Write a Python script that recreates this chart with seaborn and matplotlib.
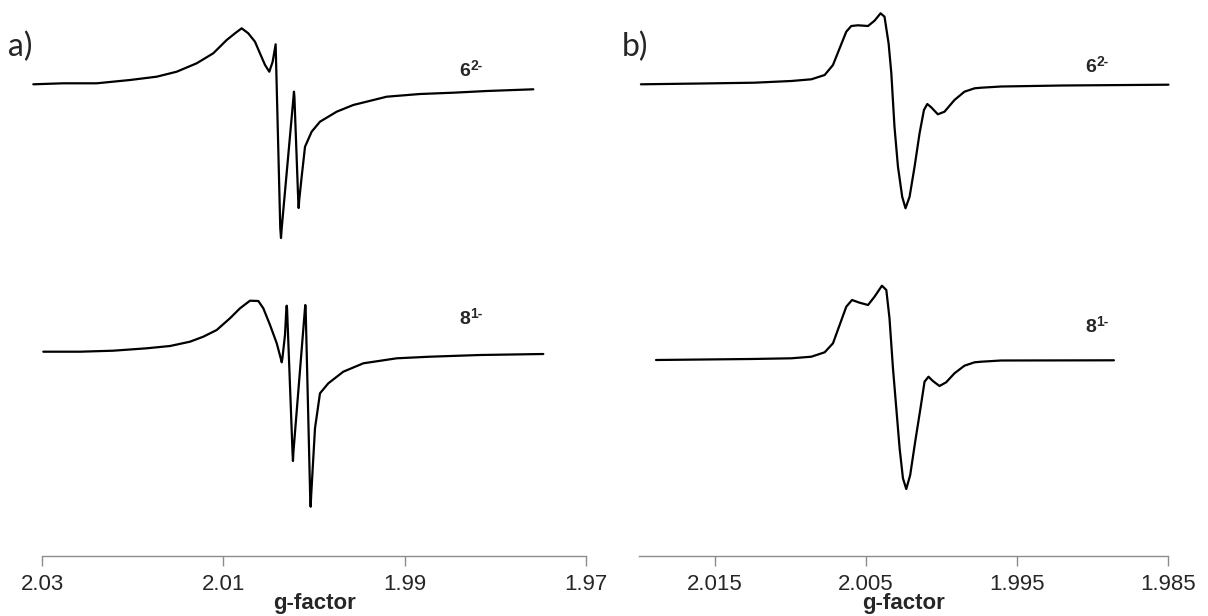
import numpy as np
import pandas as pd
import matplotlib
matplotlib.use("Agg")
import matplotlib.pyplot as plt
import seaborn as sns

# ---- data: g-factor and signal level (larger = lower on page) ----
a_top_g = [2.03096, 2.02765, 2.02397, 2.02029, 2.01735, 2.01514, 2.01294, 2.01111, 2.00963, 2.00871,
           2.00798, 2.00725, 2.00651, 2.00596, 2.00540, 2.00493, 2.00456, 2.00423, 2.00372, 2.00364,
           2.00356, 2.00226, 2.00221, 2.00216, 2.00174, 2.00169, 2.00163, 2.00136, 2.00099, 2.00026,
           1.99934, 1.99750, 1.99567, 1.99198, 1.98831, 1.98464, 1.98095, 1.97581]
a_top_y = [84.3, 83.3, 83.3, 80.0, 76.7, 71.7, 63.3, 53.3, 40.0, 33.3,
           28.3, 33.3, 41.7, 53.3, 65.0, 71.7, 61.7, 44.3, 228, 238,
           228, 97, 91.7, 97, 200, 208, 200, 176.7, 146.7, 131.7,
           121.7, 111.7, 105.0, 96.7, 94.0, 92.7, 91.0, 89.3]

a_bot_g = [2.02986, 2.02581, 2.02214, 2.01845, 2.01588, 2.01368, 2.01221, 2.01073, 2.00927, 2.00816,
           2.00706, 2.00614, 2.00559, 2.00485, 2.00411, 2.00362, 2.00356, 2.00348, 2.00320, 2.00305,
           2.00301, 2.00297, 2.00237, 2.00232, 2.00227, 2.00100, 2.00096, 2.00092, 2.00042, 2.00037,
           2.00031, 1.99989, 1.99934, 1.99842, 1.99677, 1.99456, 1.99088, 1.98721, 1.98169, 1.97471]
a_bot_y = [351.7, 351.7, 350.7, 348.3, 346.0, 341.7, 336.7, 330.0, 318.3, 308.3,
           300.7, 301.0, 308.3, 325.0, 343.3, 360, 362.3, 358, 335, 309,
           305.7, 309, 452, 461, 452, 309, 305, 309, 497, 506.7,
           495, 428.3, 393.3, 383.3, 371.7, 363.3, 358.3, 356.7, 355.0, 354.0]

b_top_g = [2.01990, 2.01590, 2.01239, 2.00995, 2.00862, 2.00774, 2.00719, 2.00675, 2.00631, 2.00598,
           2.00554, 2.00487, 2.00444, 2.00404, 2.00378, 2.00351, 2.00333, 2.00312, 2.00289, 2.00261,
           2.00239, 2.00212, 2.00179, 2.00146, 2.00117, 2.00095, 2.00069, 2.00025, 1.99981, 1.99915,
           1.99849, 1.99782, 1.99738, 1.99606, 1.99200, 1.98499]
b_top_y = [84.3, 83.5, 82.7, 81.0, 79.3, 75.0, 65.0, 48.3, 31.7, 26.0,
           25.3, 26.0, 20.7, 13.3, 16.7, 43.3, 73.0, 126.7, 166.7, 196.7,
           208.3, 196.7, 166.7, 133.3, 110.0, 104.0, 107.3, 114.3, 111.7, 100.0,
           91.7, 88.3, 87.7, 86.5, 85.5, 84.7]

b_bot_g = [2.01890, 2.01259, 2.00995, 2.00862, 2.00774, 2.00719, 2.00675, 2.00631, 2.00593, 2.00543,
           2.00487, 2.00444, 2.00395, 2.00366, 2.00345, 2.00322, 2.00300, 2.00278, 2.00256, 2.00234,
           2.00208, 2.00175, 2.00140, 2.00113, 2.00087, 2.00058, 2.00014, 1.99970, 1.99915, 1.99849,
           1.99782, 1.99738, 1.99606, 1.98860]
b_bot_y = [360.0, 359.0, 358.3, 356.7, 352.3, 343.3, 325.0, 306.7, 300.0, 302.7,
           305.0, 296.7, 285.7, 290.0, 318.3, 368.3, 408.3, 448.3, 478.3, 489.0,
           475.0, 441.7, 408.3, 381.7, 376.7, 381.0, 386.0, 382.3, 373.3, 365.7,
           362.3, 361.7, 360.5, 360.3]

a_ticks = [2.03, 2.01, 1.99, 1.97]
a_tick_labels = ["2.03", "2.01", "1.99", "1.97"]
b_ticks = [2.015, 2.005, 1.995, 1.985]
b_tick_labels = ["2.015", "2.005", "1.995", "1.985"]
panel_labels = ["a)", "b)"]
species = [("6", "2-"), ("8", "1-")]

# ---- figure ----
sns.set_style("white")
plt.rcParams["font.family"] = ["Liberation Sans", "DejaVu Sans"]

W, H = 1208, 616
fig = plt.figure(figsize=(W / 100, H / 100), dpi=100)
AXIS_Y = 556
ax_a = fig.add_axes([42 / W, (H - AXIS_Y) / H, 544 / W, AXIS_Y / H])
ax_b = fig.add_axes([639.4 / W, (H - AXIS_Y) / H, (1168.3 - 639.4) / W, AXIS_Y / H])


def height(vals):
    # signal levels were read as depth from the top; turn them into height above the axis
    return [AXIS_Y - v for v in vals]


def draw(ax, g, y):
    df = pd.DataFrame({"g": g, "I": height(y)})
    sns.lineplot(data=df, x="g", y="I", ax=ax, color="black", linewidth=1.6,
                 estimator=None, sort=False, clip_on=False)


draw(ax_a, a_top_g, a_top_y)
draw(ax_a, a_bot_g, a_bot_y)
draw(ax_b, b_top_g, b_top_y)
draw(ax_b, b_bot_g, b_bot_y)

gray = "#8c8c8c"
for ax, lims, ticks, labels in [(ax_a, (2.03, 1.97), a_ticks, a_tick_labels),
                                (ax_b, (2.020, 1.985), b_ticks, b_tick_labels)]:
    ax.set_xlim(*lims)
    ax.set_ylim(0, AXIS_Y)
    for s in ["top", "left", "right"]:
        ax.spines[s].set_visible(False)
    ax.spines["bottom"].set_color(gray)
    ax.spines["bottom"].set_linewidth(1.0)
    ax.set_yticks([])
    ax.set_ylabel("")
    ax.set_xticks(ticks)
    ax.set_xticklabels(labels)
    ax.tick_params(axis="x", direction="out", length=7, width=1.0, color=gray,
                   labelsize=16, pad=6, bottom=True)
    ax.set_xlabel("g-factor", fontsize=16, fontweight="bold", labelpad=-1.5)
    ax.patch.set_alpha(0)

# panel letters
fig.text(8 / W, 1 - 47 / H, panel_labels[0], fontsize=23, family=["Lato", "DejaVu Sans"],
         va="center", ha="left")
fig.text(622 / W, 1 - 47 / H, panel_labels[1], fontsize=23, family=["Lato", "DejaVu Sans"],
         va="center", ha="left")

# species labels with superscript charges
label_pos = [((459, 72), species[0]), ((459, 320), species[1]),
             ((1085, 68), species[0]), ((1085, 328), species[1])]
for (xpx, ypx), (base, sup) in label_pos:
    t = fig.text(xpx / W, 1 - ypx / H, base, fontsize=14, fontweight="bold",
                 va="center", ha="left")
    ax_a.annotate(sup, xy=(1.0, 1.0), xycoords=t, xytext=(0.5, 3.5), textcoords="offset points",
                  ha="left", va="top", fontsize=10, fontweight="bold", annotation_clip=False)

fig.savefig("out.png", dpi=100)
